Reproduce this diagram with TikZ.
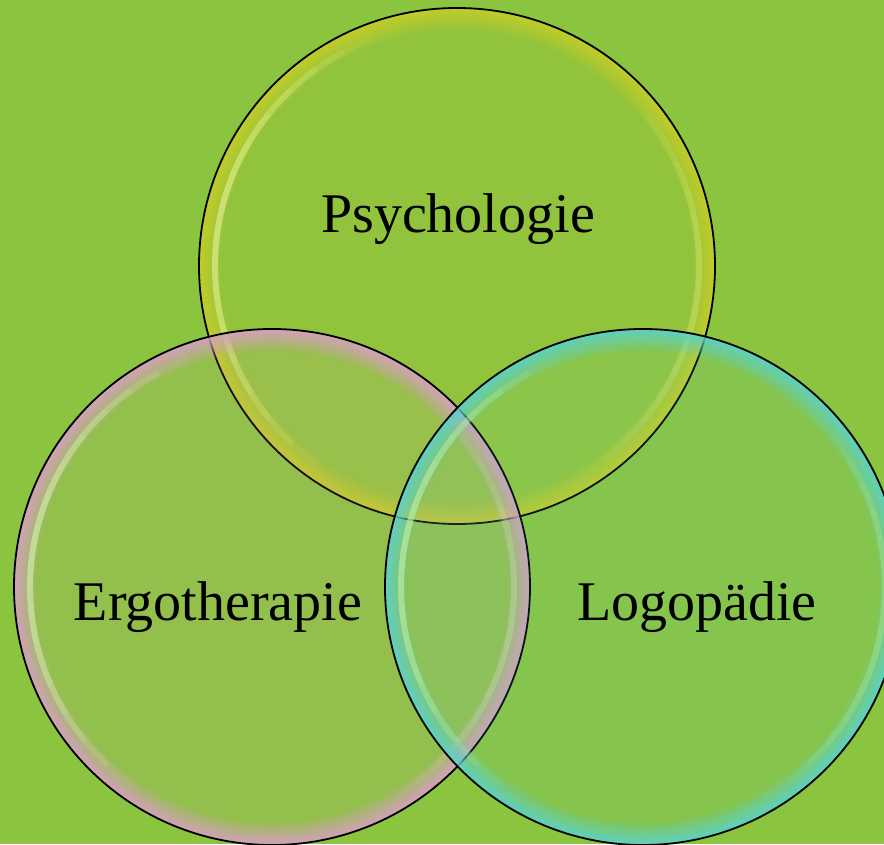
\documentclass[tikz,border=0pt]{standalone}
\usepackage{fontspec}
\setmainfont{Liberation Serif}
\usepackage{tikz}
\definecolor{bggreen}{RGB}{139,196,63}
\definecolor{psyrim}{RGB}{200,205,40}
\definecolor{psylight}{RGB}{220,238,140}
\definecolor{ergorim}{RGB}{218,158,198}
\definecolor{ergolight}{RGB}{205,238,165}
\definecolor{logorim}{RGB}{90,210,205}
\definecolor{logolight}{RGB}{185,238,160}
\tikzset{
  field text/.style={font=\fontsize{56}{60}\selectfont,anchor=base,inner sep=0pt},
  outline/.style={draw=black,line width=1.8pt}
}
% fading highlight arc: centre, colour, start angle, end angle, strength
\newcommand{\shine}[5]{%
  \foreach \s [evaluate=\s as \op using #5*sin(180*(\s+0.5)/16),
               evaluate=\s as \aa using #3+(#4-#3)*\s/16,
               evaluate=\s as \ab using #3+(#4-#3)*(\s+1)/16] in {0,...,15}
    \draw[#2,draw opacity=\op,line width=6pt] ([shift={(\aa:242)}]#1) arc (\aa:\ab:242);
}
% one soap bubble: centre, rim colour, highlight colour
\newcommand{\bubble}[3]{%
  \fill[#2,fill opacity=0.10] (#1) circle (258);
  \foreach \i [evaluate=\i as \op using 0.85-0.075*\i] in {0,...,10}
    \draw[#2,draw opacity=\op,line width=2.2pt] (#1) circle ({257-2*\i});
  \shine{#1}{#3}{110}{235}{0.7}
  \shine{#1}{#3}{-60}{45}{0.35}
  \draw[outline] (#1) circle (258);
}

\begin{document}
\begin{tikzpicture}[x=1pt,y=1pt]
  \useasboundingbox (0,0) rectangle (884,844);
  \clip (0,0) rectangle (884,844);
  \fill[bggreen] (0,0) rectangle (884,844);

  \coordinate (psy) at (457,578);
  \coordinate (ergo) at (272,257);
  \coordinate (logo) at (643,257);

  \bubble{psy}{psyrim}{psylight}
  \bubble{ergo}{ergorim}{ergolight}
  \bubble{logo}{logorim}{logolight}

  \node[field text] (psytext) at (458,611) {Psychologie};
  \node[field text] (ergotext) at (218,223) {Ergotherapie};
  \node[field text] (logotext) at (697,223) {Logopädie};
\end{tikzpicture}
\end{document}
